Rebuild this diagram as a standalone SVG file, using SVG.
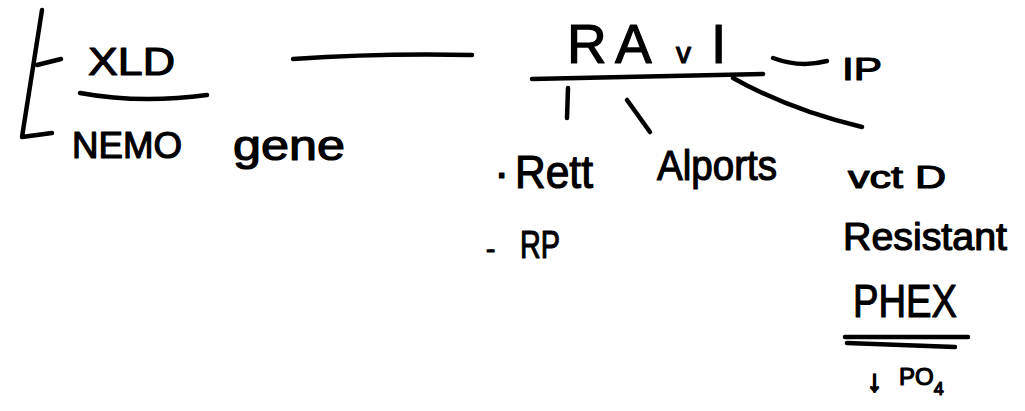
<svg xmlns="http://www.w3.org/2000/svg" width="1025" height="411" viewBox="0 0 1025 411">
<style>
.t{font-family:"Liberation Sans","DejaVu Sans",sans-serif;fill:#000;stroke:#000;stroke-width:1.2;stroke-linejoin:round}
.s{fill:none;stroke:#000;stroke-width:4.5;stroke-linecap:round;stroke-linejoin:round}
</style>
<rect width="1025" height="411" fill="#fff"/>
<g id="connectors">
<path class="s" d="M42 10 L22 137 L52 133"/>
<path class="s" d="M37 65 L61 59"/>
<path class="s" d="M80 93 Q140 104 207 95"/>
<path class="s" d="M293 59 Q380 53 472 55"/>
<path class="s" d="M532 79 L763 74"/>
<path class="s" d="M773 58 Q800 68 827 61"/>
<path class="s" d="M733 78 Q790 110 862 127"/>
<path class="s" d="M568 88 L567 118"/>
<path class="s" d="M627 100 L650 132"/>
<path class="s" d="M845 337 L968 337"/>
<path class="s" d="M847 343 L955 347"/>
</g>
<g id="xld"><text class="t" x="88" y="75" font-size="38" textLength="87" lengthAdjust="spacingAndGlyphs">XLD</text></g>
<g id="nemo"><text class="t" x="72" y="158" font-size="36" textLength="110" lengthAdjust="spacingAndGlyphs">NEMO</text></g>
<g id="gene"><text class="t" x="233" y="160" font-size="42" textLength="112" lengthAdjust="spacingAndGlyphs">gene</text></g>
<g id="ravi"><text class="t" font-size="55" y="63"><tspan x="567">R</tspan><tspan x="615">A</tspan><tspan x="676" font-size="30">v</tspan><tspan x="711">I</tspan></text></g>
<g id="ip"><text class="t" x="842" y="80" font-size="32" textLength="40" lengthAdjust="spacingAndGlyphs">IP</text></g>
<g id="rett"><text class="t" font-size="46" y="188"><tspan x="494">·</tspan><tspan x="515" textLength="78" lengthAdjust="spacingAndGlyphs">Rett</tspan></text></g>
<g id="rp"><text class="t" font-size="38" y="258"><tspan x="486" font-size="28">-</tspan><tspan x="520" textLength="40" lengthAdjust="spacingAndGlyphs">RP</tspan></text></g>
<g id="alports"><text class="t" x="657" y="180" font-size="42" textLength="120" lengthAdjust="spacingAndGlyphs">Alports</text></g>
<g id="vitd">
<text class="t" x="848" y="188" font-size="32" textLength="98" lengthAdjust="spacingAndGlyphs">vct D</text>
<text class="t" x="843" y="250" font-size="38" textLength="164" lengthAdjust="spacingAndGlyphs">Resistant</text>
</g>
<g id="phex"><text class="t" x="853" y="317" font-size="46" textLength="104" lengthAdjust="spacingAndGlyphs">PHEX</text></g>
<g id="po4"><text class="t" y="385"><tspan x="867" y="391" font-size="30" style="stroke-width:2">↓</tspan><tspan x="899" y="385" font-size="24">PO</tspan><tspan font-size="18" dy="10">4</tspan></text></g>
</svg>
